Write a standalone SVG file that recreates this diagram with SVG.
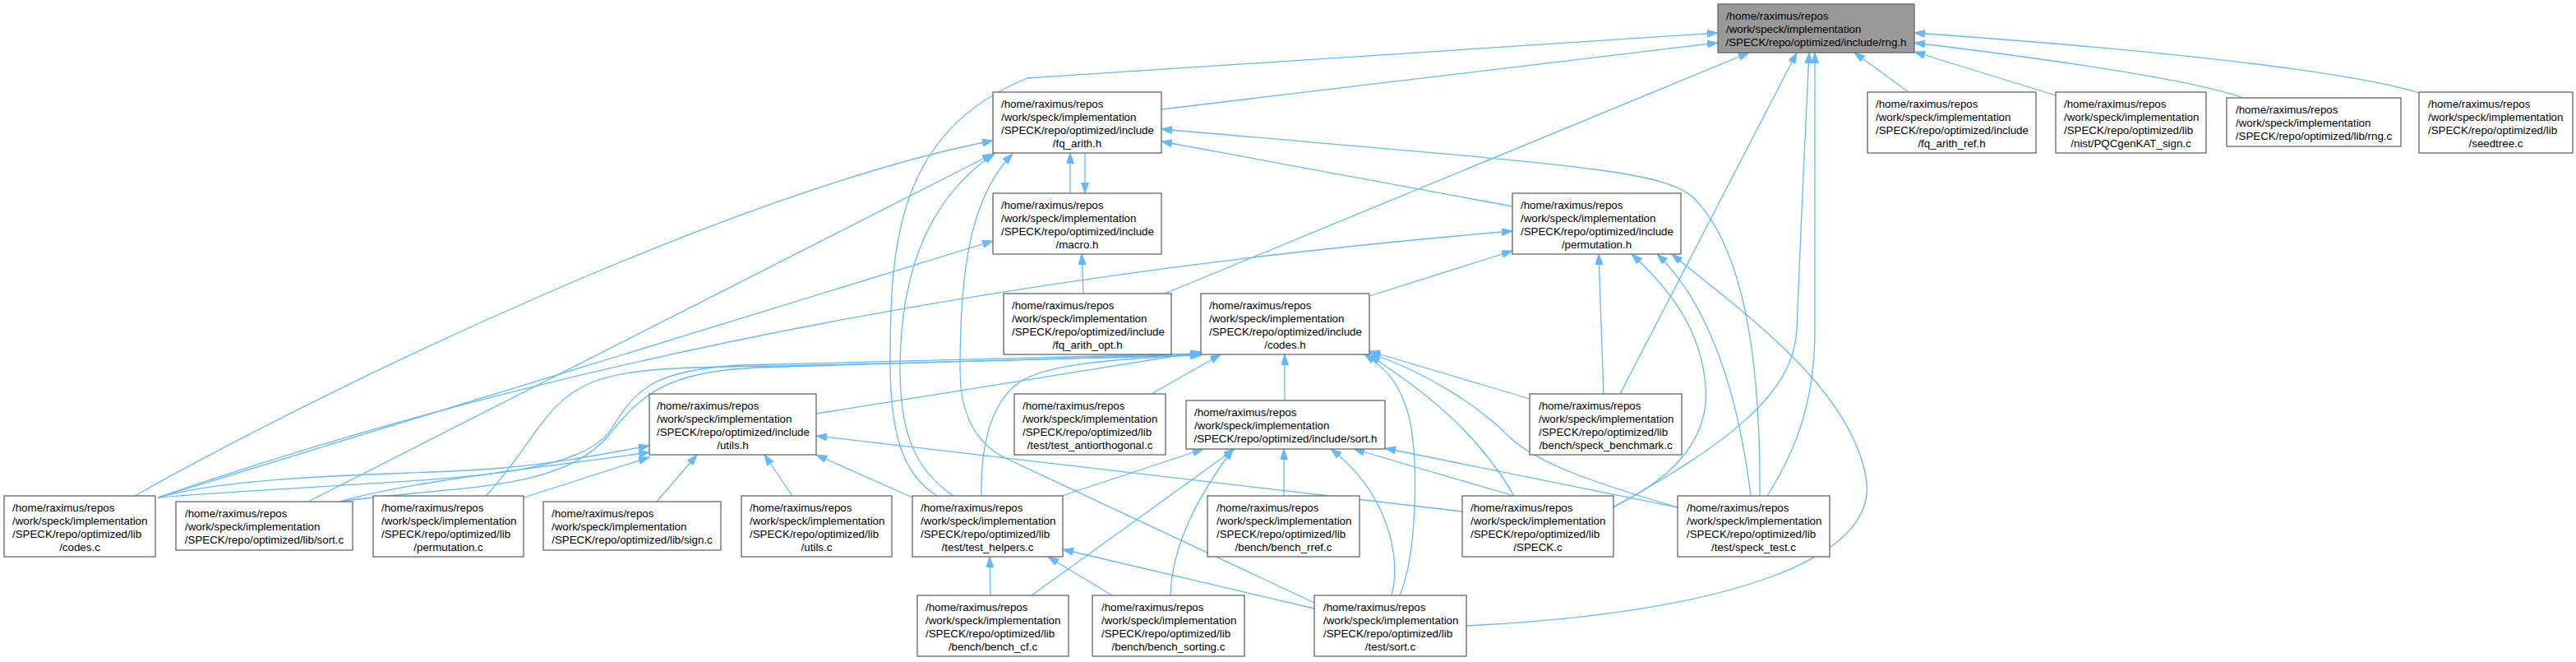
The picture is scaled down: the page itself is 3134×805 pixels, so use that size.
<svg xmlns="http://www.w3.org/2000/svg" width="3134" height="805" viewBox="0 0 3134 805">
<style>
.n rect{fill:#ffffff;stroke:#666666;stroke-width:1.3}
.n.hl rect{fill:#999999}
text{font-family:"Liberation Sans",Arial,Helvetica,sans-serif;font-size:13.33px;fill:#000000}
.c{text-anchor:middle}
.e path{fill:none;stroke:#63b8ff;stroke-width:1.3;marker-end:url(#a)}
</style>
<defs>
<marker id="a" markerWidth="14" markerHeight="10" refX="13" refY="4.5" orient="auto" markerUnits="userSpaceOnUse">
<path d="M0,0 L13,4.5 L0,9 z" fill="#63b8ff" stroke="#63b8ff" stroke-width="1"/>
</marker>
</defs>
<rect width="3134" height="805" fill="#ffffff"/>
<g id="edges" class="e">
<path d="M1413,133 L2090,52"/>
<path d="M1140,603 C1095,575 1083,520 1083,440 C1083,300 1090,160 1250,95 L2090,40"/>
<path d="M1417,357 L2128,64"/>
<path d="M1971,479 L2186,64"/>
<path d="M1963,617 C2100,540 2183,480 2186,400 C2190,300 2196,160 2201,64"/>
<path d="M2150,603 C2190,540 2208,480 2208,400 L2208,64"/>
<path d="M2322,112 L2256,64"/>
<path d="M2501,116 L2329,63"/>
<path d="M2729,119 C2690,105 2600,85 2329,52"/>
<path d="M2943,113 C2880,93 2700,66 2329,40"/>
<path d="M1302,235 L1302,186"/>
<path d="M1320,186 L1320,235"/>
<path d="M1840,251 L1413,172"/>
<path d="M2141,603 C2142,430 2120,300 2060,240 C2020,205 1900,200 1413,157"/>
<path d="M164,603 C400,470 900,230 1208,171"/>
<path d="M375,610 L1208,187"/>
<path d="M1160,603 C1110,570 1095,520 1095,450 C1095,330 1130,240 1210,187"/>
<path d="M1599,733 L1223,557 C1185,538 1168,500 1168,450 C1168,330 1180,240 1232,187"/>
<path d="M1318,357 L1316,309"/>
<path d="M192,605 L1208,293"/>
<path d="M192,605 Q900,360 1840,281"/>
<path d="M1666,360 L1840,305"/>
<path d="M1951,479 L1945,309"/>
<path d="M1963,616 C2040,580 2080,530 2075,470 C2070,400 2030,350 1985,309"/>
<path d="M2130,603 C2115,480 2080,370 2016,309"/>
<path d="M1784,761 C2100,745 2290,680 2270,580 C2250,470 2120,380 2034,309"/>
<path d="M993,503 L1461,428"/>
<path d="M1401,479 L1485,431"/>
<path d="M1563,487 L1563,431"/>
<path d="M192,605 C500,580 700,590 745,520 C775,470 800,450 900,444 L1461,430"/>
<path d="M413,610 C550,590 680,600 740,530 C780,480 810,452 920,447 L1461,431"/>
<path d="M591,603 C650,540 660,490 720,465 C760,448 830,446 950,445 L1461,432"/>
<path d="M1194,603 C1193,540 1205,490 1240,465 C1270,445 1330,438 1461,431"/>
<path d="M1861,485 L1666,427"/>
<path d="M1842,603 C1800,530 1740,480 1666,432"/>
<path d="M2041,617 C1950,590 1870,565 1835,530 C1800,495 1740,455 1666,429"/>
<path d="M1703,724 C1725,670 1725,560 1715,510 C1705,470 1690,450 1660,431"/>
<path d="M192,605 C300,575 500,578 600,570 C680,563 730,553 790,542"/>
<path d="M413,610 C500,585 650,570 790,550"/>
<path d="M637,605 L790,556"/>
<path d="M799,610 L848,553"/>
<path d="M964,603 L930,553"/>
<path d="M1110,605 L993,553"/>
<path d="M1779,622 L993,530"/>
<path d="M1292,603 L1464,546"/>
<path d="M1255,724 L1502,546"/>
<path d="M1424,724 C1426,660 1460,600 1500,546"/>
<path d="M1562,603 L1562,546"/>
<path d="M1693,724 C1705,680 1690,600 1619,546"/>
<path d="M1842,603 L1647,546"/>
<path d="M2041,617 L1685,545"/>
<path d="M1205,724 L1204,677"/>
<path d="M1353,724 L1275,677"/>
<path d="M1599,740 L1293,668"/>
</g>
<g id="n_rng_h" class="n hl"><rect x="2090" y="5" width="239" height="59"/><text><tspan x="2100" y="23.5">/home/raximus/repos</tspan><tspan x="2100" y="39.5">/work/speck/implementation</tspan></text><text class="c" x="2209.5" y="55.5">/SPECK/repo/optimized/include/rng.h</text></g>
<g id="n_fq_arith_h" class="n"><rect x="1208" y="112" width="205" height="74"/><text><tspan x="1218" y="130.5">/home/raximus/repos</tspan><tspan x="1218" y="146.5">/work/speck/implementation</tspan><tspan x="1218" y="162.5">/SPECK/repo/optimized/include</tspan></text><text class="c" x="1310.5" y="178.5">/fq_arith.h</text></g>
<g id="n_fq_arith_ref_h" class="n"><rect x="2272" y="112" width="205" height="74"/><text><tspan x="2282" y="130.5">/home/raximus/repos</tspan><tspan x="2282" y="146.5">/work/speck/implementation</tspan><tspan x="2282" y="162.5">/SPECK/repo/optimized/include</tspan></text><text class="c" x="2374.5" y="178.5">/fq_arith_ref.h</text></g>
<g id="n_pqcgenkat_sign_c" class="n"><rect x="2501" y="112" width="183" height="74"/><text><tspan x="2511" y="130.5">/home/raximus/repos</tspan><tspan x="2511" y="146.5">/work/speck/implementation</tspan><tspan x="2511" y="162.5">/SPECK/repo/optimized/lib</tspan></text><text class="c" x="2592.5" y="178.5">/nist/PQCgenKAT_sign.c</text></g>
<g id="n_rng_c" class="n"><rect x="2709" y="119" width="212" height="59"/><text><tspan x="2720" y="137.5">/home/raximus/repos</tspan><tspan x="2720" y="153.5">/work/speck/implementation</tspan></text><text class="c" x="2815" y="169.5">/SPECK/repo/optimized/lib/rng.c</text></g>
<g id="n_seedtree_c" class="n"><rect x="2943" y="112" width="187" height="74"/><text><tspan x="2954" y="130.5">/home/raximus/repos</tspan><tspan x="2954" y="146.5">/work/speck/implementation</tspan><tspan x="2954" y="162.5">/SPECK/repo/optimized/lib</tspan></text><text class="c" x="3036.5" y="178.5">/seedtree.c</text></g>
<g id="n_macro_h" class="n"><rect x="1208" y="235" width="205" height="74"/><text><tspan x="1218" y="253.5">/home/raximus/repos</tspan><tspan x="1218" y="269.5">/work/speck/implementation</tspan><tspan x="1218" y="285.5">/SPECK/repo/optimized/include</tspan></text><text class="c" x="1310.5" y="301.5">/macro.h</text></g>
<g id="n_permutation_h" class="n"><rect x="1840" y="235" width="205" height="74"/><text><tspan x="1850" y="253.5">/home/raximus/repos</tspan><tspan x="1850" y="269.5">/work/speck/implementation</tspan><tspan x="1850" y="285.5">/SPECK/repo/optimized/include</tspan></text><text class="c" x="1942.5" y="301.5">/permutation.h</text></g>
<g id="n_fq_arith_opt_h" class="n"><rect x="1221" y="357" width="204" height="74"/><text><tspan x="1231" y="375.5">/home/raximus/repos</tspan><tspan x="1231" y="391.5">/work/speck/implementation</tspan><tspan x="1231" y="407.5">/SPECK/repo/optimized/include</tspan></text><text class="c" x="1323" y="423.5">/fq_arith_opt.h</text></g>
<g id="n_codes_h" class="n"><rect x="1461" y="357" width="205" height="74"/><text><tspan x="1471" y="375.5">/home/raximus/repos</tspan><tspan x="1471" y="391.5">/work/speck/implementation</tspan><tspan x="1471" y="407.5">/SPECK/repo/optimized/include</tspan></text><text class="c" x="1563.5" y="423.5">/codes.h</text></g>
<g id="n_utils_h" class="n"><rect x="790" y="479" width="203" height="74"/><text><tspan x="799" y="497.5">/home/raximus/repos</tspan><tspan x="799" y="513.5">/work/speck/implementation</tspan><tspan x="799" y="529.5">/SPECK/repo/optimized/include</tspan></text><text class="c" x="891.5" y="545.5">/utils.h</text></g>
<g id="n_test_antiorthogonal_c" class="n"><rect x="1234" y="479" width="184" height="74"/><text><tspan x="1244" y="497.5">/home/raximus/repos</tspan><tspan x="1244" y="513.5">/work/speck/implementation</tspan><tspan x="1244" y="529.5">/SPECK/repo/optimized/lib</tspan></text><text class="c" x="1326" y="545.5">/test/test_antiorthogonal.c</text></g>
<g id="n_sort_h" class="n"><rect x="1443" y="487" width="242" height="59"/><text><tspan x="1453" y="505.5">/home/raximus/repos</tspan><tspan x="1453" y="521.5">/work/speck/implementation</tspan></text><text class="c" x="1564" y="537.5">/SPECK/repo/optimized/include/sort.h</text></g>
<g id="n_speck_benchmark_c" class="n"><rect x="1861" y="479" width="185" height="74"/><text><tspan x="1872" y="497.5">/home/raximus/repos</tspan><tspan x="1872" y="513.5">/work/speck/implementation</tspan><tspan x="1872" y="529.5">/SPECK/repo/optimized/lib</tspan></text><text class="c" x="1953.5" y="545.5">/bench/speck_benchmark.c</text></g>
<g id="n_codes_c" class="n"><rect x="5" y="603" width="184" height="74"/><text><tspan x="15" y="621.5">/home/raximus/repos</tspan><tspan x="15" y="637.5">/work/speck/implementation</tspan><tspan x="15" y="653.5">/SPECK/repo/optimized/lib</tspan></text><text class="c" x="97" y="669.5">/codes.c</text></g>
<g id="n_sort_c" class="n"><rect x="214" y="610" width="215" height="59"/><text><tspan x="225" y="628.5">/home/raximus/repos</tspan><tspan x="225" y="644.5">/work/speck/implementation</tspan></text><text class="c" x="321.5" y="660.5">/SPECK/repo/optimized/lib/sort.c</text></g>
<g id="n_permutation_c" class="n"><rect x="454" y="603" width="183" height="74"/><text><tspan x="464" y="621.5">/home/raximus/repos</tspan><tspan x="464" y="637.5">/work/speck/implementation</tspan><tspan x="464" y="653.5">/SPECK/repo/optimized/lib</tspan></text><text class="c" x="545.5" y="669.5">/permutation.c</text></g>
<g id="n_sign_c" class="n"><rect x="661" y="610" width="216" height="59"/><text><tspan x="671" y="628.5">/home/raximus/repos</tspan><tspan x="671" y="644.5">/work/speck/implementation</tspan></text><text class="c" x="769" y="660.5">/SPECK/repo/optimized/lib/sign.c</text></g>
<g id="n_utils_c" class="n"><rect x="902" y="603" width="183" height="74"/><text><tspan x="912" y="621.5">/home/raximus/repos</tspan><tspan x="912" y="637.5">/work/speck/implementation</tspan><tspan x="912" y="653.5">/SPECK/repo/optimized/lib</tspan></text><text class="c" x="993.5" y="669.5">/utils.c</text></g>
<g id="n_test_helpers_c" class="n"><rect x="1110" y="603" width="183" height="74"/><text><tspan x="1120" y="621.5">/home/raximus/repos</tspan><tspan x="1120" y="637.5">/work/speck/implementation</tspan><tspan x="1120" y="653.5">/SPECK/repo/optimized/lib</tspan></text><text class="c" x="1201.5" y="669.5">/test/test_helpers.c</text></g>
<g id="n_bench_rref_c" class="n"><rect x="1469" y="603" width="185" height="74"/><text><tspan x="1480" y="621.5">/home/raximus/repos</tspan><tspan x="1480" y="637.5">/work/speck/implementation</tspan><tspan x="1480" y="653.5">/SPECK/repo/optimized/lib</tspan></text><text class="c" x="1561.5" y="669.5">/bench/bench_rref.c</text></g>
<g id="n_SPECK_c" class="n"><rect x="1779" y="603" width="184" height="74"/><text><tspan x="1789" y="621.5">/home/raximus/repos</tspan><tspan x="1789" y="637.5">/work/speck/implementation</tspan><tspan x="1789" y="653.5">/SPECK/repo/optimized/lib</tspan></text><text class="c" x="1871" y="669.5">/SPECK.c</text></g>
<g id="n_speck_test_c" class="n"><rect x="2041" y="603" width="185" height="74"/><text><tspan x="2052" y="621.5">/home/raximus/repos</tspan><tspan x="2052" y="637.5">/work/speck/implementation</tspan><tspan x="2052" y="653.5">/SPECK/repo/optimized/lib</tspan></text><text class="c" x="2133.5" y="669.5">/test/speck_test.c</text></g>
<g id="n_bench_cf_c" class="n"><rect x="1116" y="724" width="184" height="74"/><text><tspan x="1126" y="742.5">/home/raximus/repos</tspan><tspan x="1126" y="758.5">/work/speck/implementation</tspan><tspan x="1126" y="774.5">/SPECK/repo/optimized/lib</tspan></text><text class="c" x="1208" y="790.5">/bench/bench_cf.c</text></g>
<g id="n_bench_sorting_c" class="n"><rect x="1329" y="724" width="185" height="74"/><text><tspan x="1340" y="742.5">/home/raximus/repos</tspan><tspan x="1340" y="758.5">/work/speck/implementation</tspan><tspan x="1340" y="774.5">/SPECK/repo/optimized/lib</tspan></text><text class="c" x="1421.5" y="790.5">/bench/bench_sorting.c</text></g>
<g id="n_test_sort_c" class="n"><rect x="1599" y="724" width="185" height="74"/><text><tspan x="1610" y="742.5">/home/raximus/repos</tspan><tspan x="1610" y="758.5">/work/speck/implementation</tspan><tspan x="1610" y="774.5">/SPECK/repo/optimized/lib</tspan></text><text class="c" x="1691.5" y="790.5">/test/sort.c</text></g>
</svg>
